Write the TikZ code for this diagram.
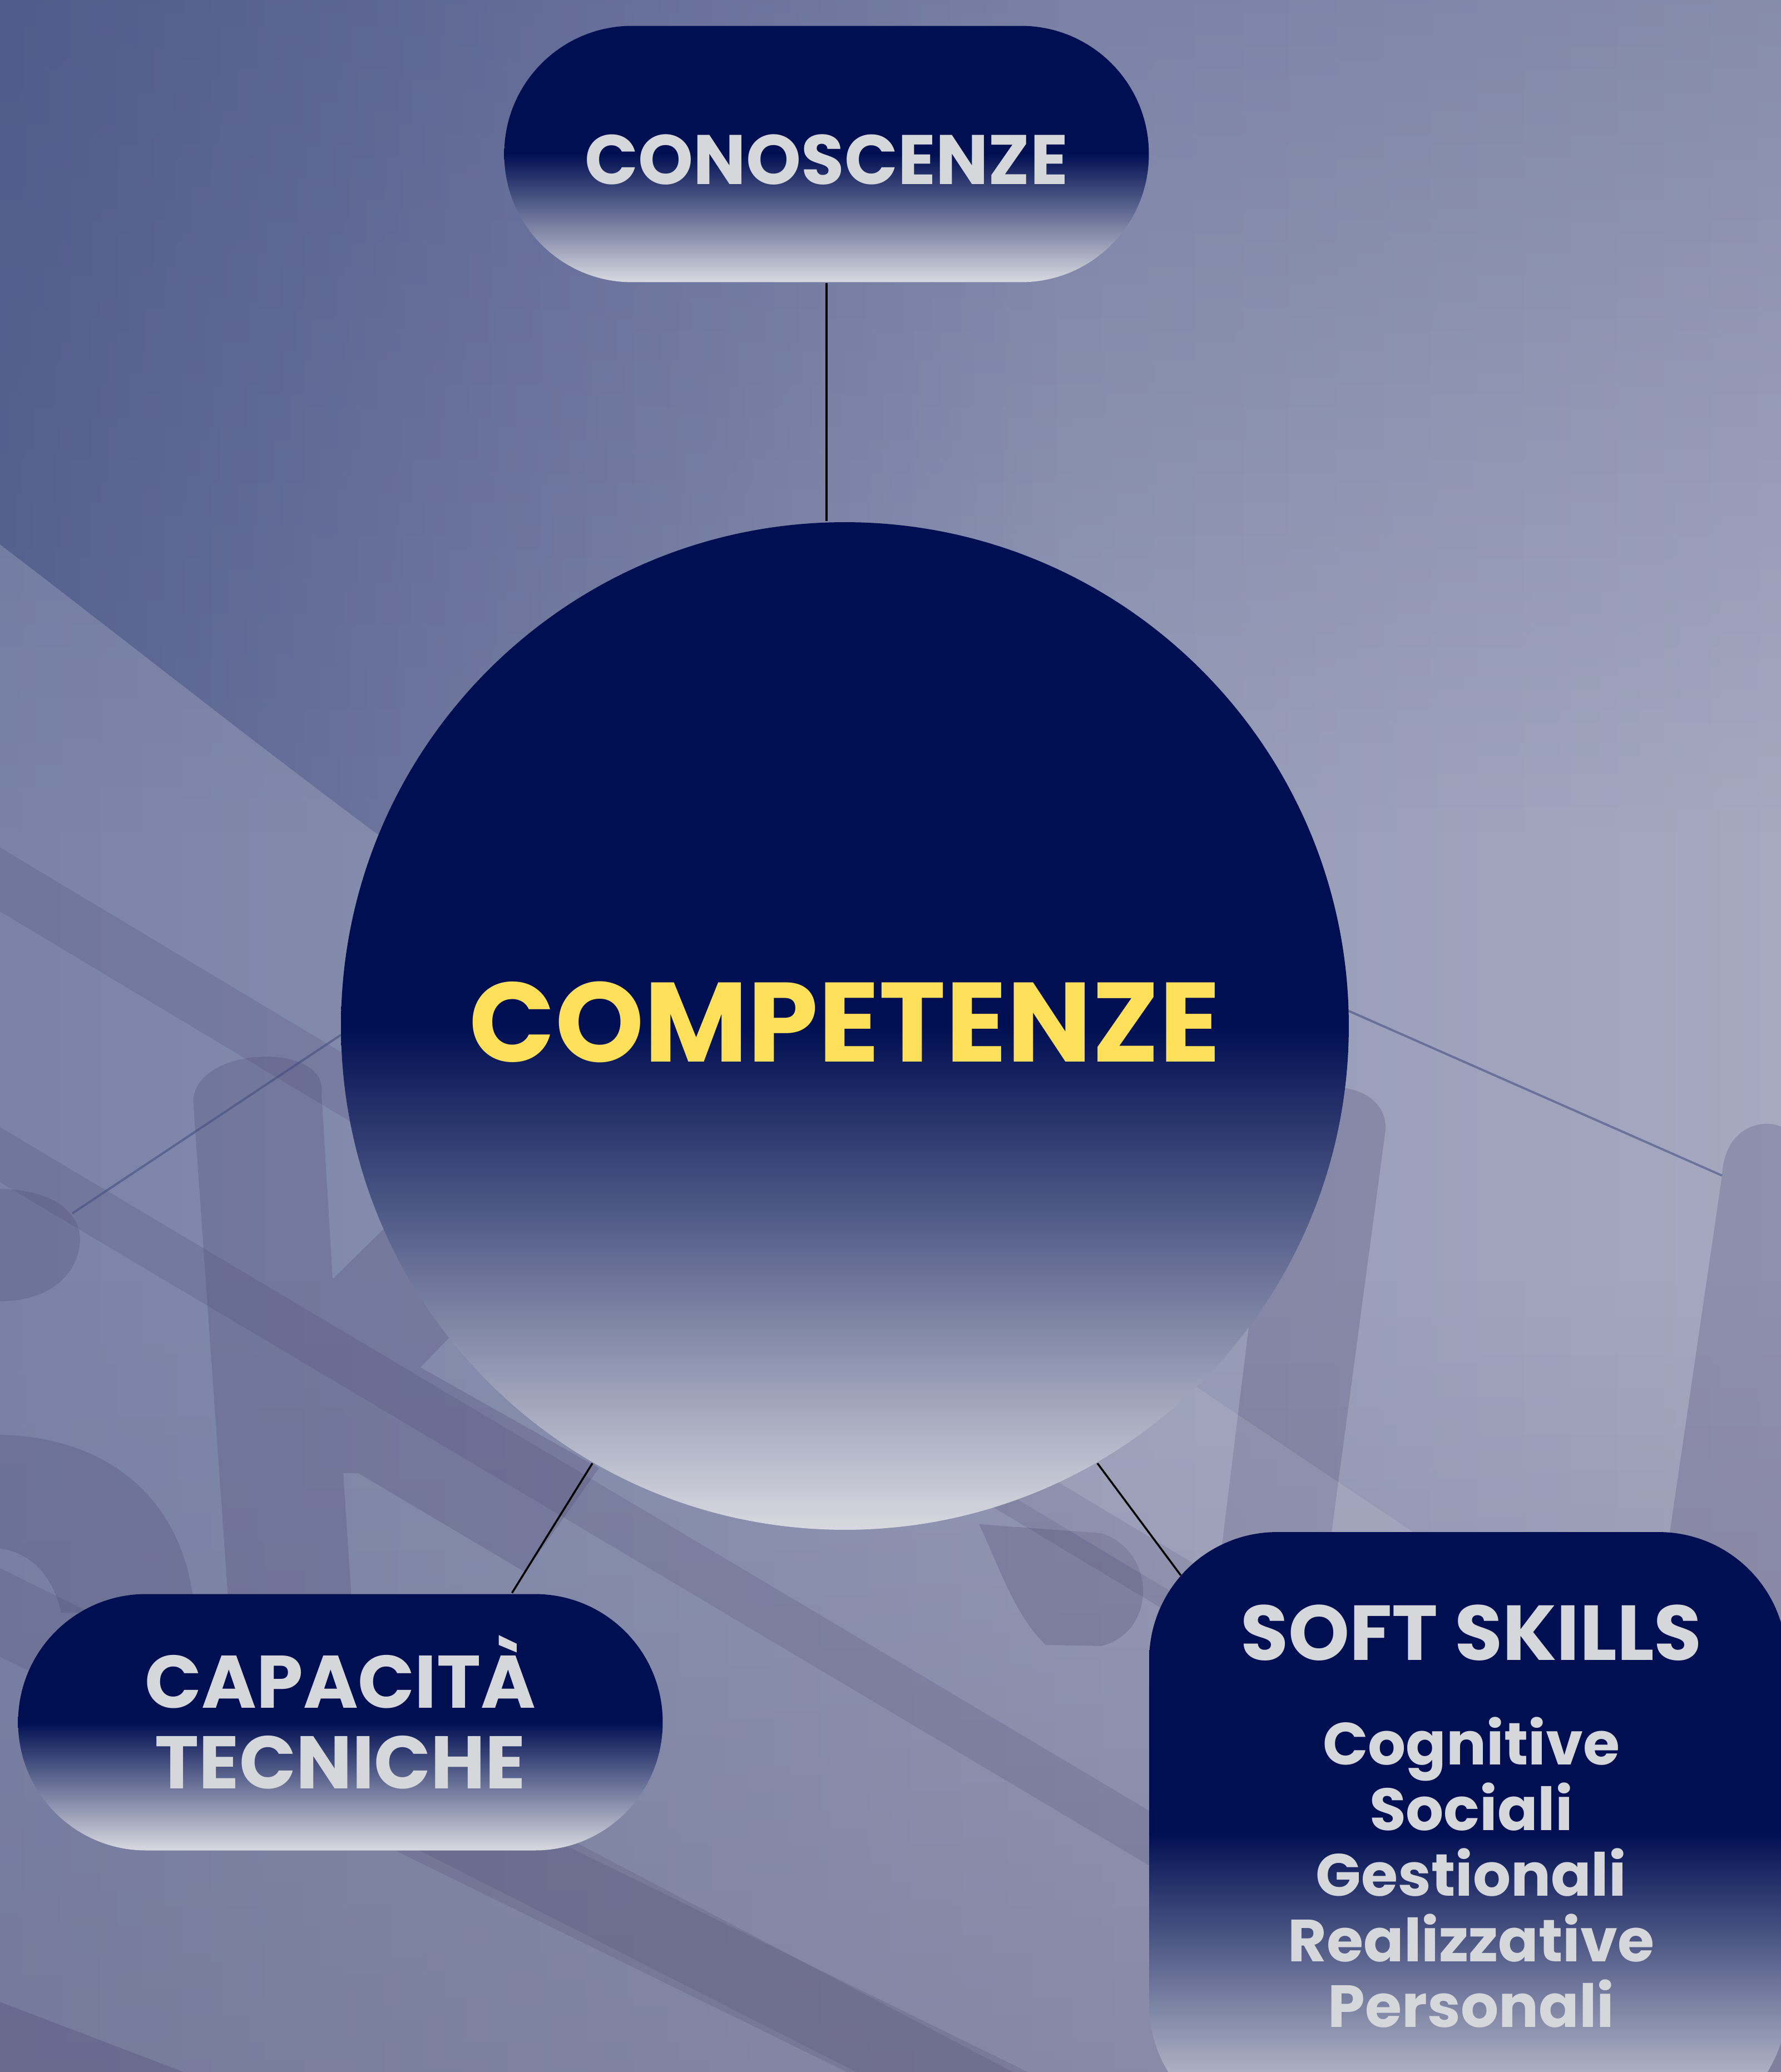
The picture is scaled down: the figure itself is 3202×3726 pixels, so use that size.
\documentclass[tikz,border=0pt]{standalone}
\usepackage{fontspec}
\setmainfont{Poppins}
\usetikzlibrary{fadings}

\definecolor{navy}{HTML}{000F52}
\definecolor{fadelo}{HTML}{D8D9E0}
\definecolor{labelgray}{HTML}{D6D7DB}
\definecolor{gold}{HTML}{FFE05A}
\definecolor{bgl}{HTML}{7A83A7}
\definecolor{bgr}{HTML}{A6A9C0}
\definecolor{bgdark}{HTML}{3F4A80}
\definecolor{bgmauve}{HTML}{6E6A88}
\definecolor{ghost}{HTML}{4B4670}

\begin{document}
\begin{tikzpicture}[x=0.1pt,y=-0.1pt,
    pill/.style={rectangle, rounded corners=23pt, minimum width=115.9pt, minimum height=46.1pt,
        inner sep=0pt, top color=navy, bottom color=fadelo, middle color=navy,
        text=labelgray, align=center, font=\bfseries\fontsize{12.6}{14.5}\selectfont},
    hub/.style={circle, minimum size=181.2pt, inner sep=0pt,
        top color=navy, bottom color=fadelo, middle color=navy,
        text=gold, text height=14.2pt, text depth=1.4pt, font=\bfseries\fontsize{20.3}{24}\selectfont},
    softbox/.style={rectangle, rounded corners=23pt, minimum width=114.6pt, minimum height=108pt,
        inner sep=0pt, top color=navy, bottom color=fadelo, middle color=navy},
    softhead/.style={text=labelgray, inner sep=0pt, font=\bfseries\fontsize{14}{16}\selectfont},
    softitem/.style={text=labelgray, inner sep=0pt, font=\bfseries\fontsize{10.7}{11.8}\selectfont},
    link/.style={black, line width=0.35pt},
    ghostline/.style={bgdark, opacity=.55, line width=0.4pt}]

    \useasboundingbox (0,0) rectangle (3202,3726);
    \clip (0,0) rectangle (3202,3726);

    % background wash
    \shade[left color=bgl, right color=bgr] (0,0) rectangle (3202,3726);
    \fill[bgdark, opacity=.3, path fading=south] (0,0) rectangle (3202,1500);
    \fill[bgdark, opacity=.55, path fading=east] (0,0) -- (1900,0) -- (1900,1845) -- (1519,1845)
        -- (760,1560) .. controls (500,1370) and (250,1170) .. (0,979) -- cycle;
    \fill[bgmauve, opacity=.35, path fading=north] (0,2300) rectangle (3202,3726);

    % diagonal stripes
    \fill[ghost, opacity=.2] (0,1524) -- (3202,3445) -- (3202,3560) -- (0,1639) -- cycle;
    \fill[ghost, opacity=.2] (0,2027) -- (3202,3932) -- (3202,4030) -- (0,2126) -- cycle;
    \fill[ghost, opacity=.2] (0,2820) -- (3202,4390) -- (3202,4550) -- (0,2979) -- cycle;
    \fill[ghost, opacity=.2] (700,3300) -- (1010,3300) -- (1821,3726) -- (1540,3726) -- cycle;
    \fill[ghost, opacity=.3] (0,3600) -- (330,3726) -- (0,3726) -- cycle;

    % big faded letters
    \fill[ghost, opacity=.25] (348,1990) .. controls (335,1880) and (590,1870) .. (578,1965)
        -- (598,2300) -- (700,2200) -- (850,2380) -- (805,2408) -- (756,2459) -- (1077,2640)
        -- (944,2827) -- (644,2649) -- (617,2649) -- (660,3300) -- (440,3300) -- cycle;
    \fill[ghost, opacity=.25] (0,2138) .. controls (120,2140) and (150,2200) .. (143,2240)
        .. controls (135,2300) and (80,2340) .. (0,2340) -- cycle;
    \fill[ghost, opacity=.25] (0,2580) .. controls (200,2585) and (335,2700) .. (350,2900)
        -- (110,2900) .. controls (95,2830) and (50,2790) .. (0,2785) -- cycle;
    \fill[ghost, opacity=.25] (2285,2060) .. controls (2280,1925) and (2495,1925) .. (2491,2031)
        -- (2321,3300) -- (2133,3300) -- cycle;
    \fill[ghost, opacity=.25] (3096,2114) .. controls (3100,2010) and (3202,2000) .. (3230,2050)
        -- (3230,3726) -- (2860,3726) -- cycle;
    \fill[ghost, opacity=.25] (1760,2741) -- (1980,2757) .. controls (2080,2790) and (2080,2935) .. (1980,2960)
        -- (1880,2958) .. controls (1820,2900) and (1790,2800) .. (1760,2741) -- cycle;
    \fill[white, opacity=.1] (1519,2070) -- (3202,3199) -- (3202,3520) -- (1519,2510) -- cycle;

    \draw[ghostline] (130,2182) -- (613,1861);
    \draw[ghostline] (2425,1818) -- (3096,2114);

    % nodes
    \node[pill, text height=11pt, text depth=0pt] (cono) at (1486,277) {CONOSCENZE};
    \node[hub] (comp) at (1519,1845) {COMPETENZE};
    \node[pill, font=\bfseries\fontsize{13.4}{14.5}\selectfont] (capa) at (612,3097) {CAPACIT\smash{À}\\TECNICHE};
    \node[softbox] (soft) at (2639,3295) {};
    \node[softhead, anchor=base] (softtitle) at (2645,2985) {SOFT SKILLS};
    \foreach \skill [count=\i] in {Cognitive,Sociali,Gestionali,Realizzative,Personali}
        \node[softitem, anchor=base] (skill\i) at (2645,{3173+118*(\i-1)}) {\skill};

    % connectors
    \coordinate (softtip) at (2123,2833);
    \draw[link] (cono.south) -- (cono.south |- comp.north);
    \draw[link] (comp.240.7) -- (capa.37);
    \draw[link] (comp.300.5) -- (softtip);
\end{tikzpicture}
\end{document}
